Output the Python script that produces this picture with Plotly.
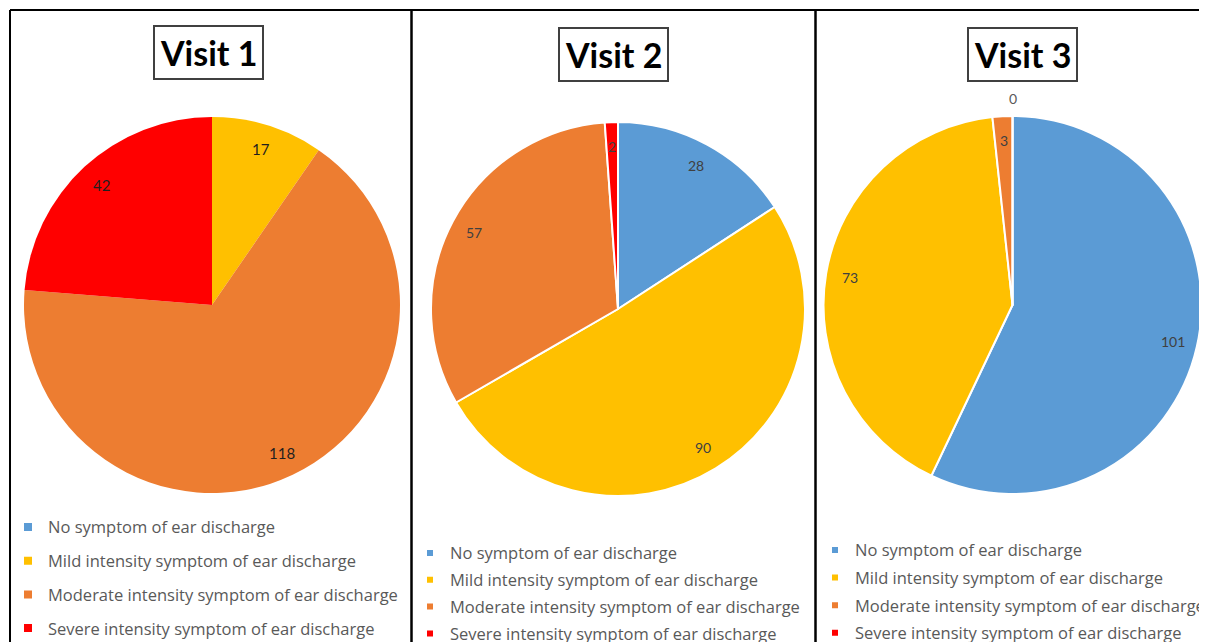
import math
import plotly.graph_objects as go

# ---- data ----
categories = [
    "No symptom of ear discharge",
    "Mild intensity symptom of ear discharge",
    "Moderate intensity symptom of ear discharge",
    "Severe intensity symptom of ear discharge",
]
visit_titles = ["Visit 1", "Visit 2", "Visit 3"]
visit1_values = [0, 17, 118, 42]
visit2_values = [28, 90, 57, 2]
visit3_values = [101, 73, 3, 0]

colors = ["#5B9BD5", "#FFC000", "#ED7D31", "#FF0000"]

# figure size; the page body has an 8px margin
W, H = 1207, 650
OFF = 8


def X(px):
    return (px - OFF) / W


def Y(py):
    return 1 - (py - OFF) / H


# panel geometry in page pixels
panels = [
    dict(cx=212, cy=305, r=188, line=0, lab_col="#1F1F1F", lab_size=15, legend="legend",
         title_xy=(208, 52), show_zero=False, msize=8),
    dict(cx=618, cy=309, r=187, line=2, lab_col="#404040", lab_size=14, legend="legend2",
         title_xy=(613, 55), show_zero=True, msize=6),
    dict(cx=1012.5, cy=305, r=189, line=2, lab_col="#404040", lab_size=14, legend="legend3",
         title_xy=(1022, 54), show_zero=True, msize=6),
]
all_values = [visit1_values, visit2_values, visit3_values]

fig = go.Figure()
annotations = []
for k, (p, vals, title) in enumerate(zip(panels, all_values, visit_titles)):
    cx, cy, r = p["cx"], p["cy"], p["r"]
    fig.add_trace(go.Pie(
        labels=categories,
        values=vals,
        sort=False,
        direction="clockwise",
        rotation=0,
        textinfo="none",
        marker=dict(colors=colors, line=dict(color="white", width=p["line"])),
        domain=dict(x=[X(cx - r), X(cx + r)], y=[Y(cy + r), Y(cy - r)]),
        showlegend=False,
        hoverinfo="label+value",
    ))
    # legend entries (one legend per panel)
    for c, col in zip(categories, colors):
        fig.add_trace(go.Scatter(
            x=[None], y=[None], mode="markers", name=c,
            marker=dict(symbol="square", size=p["msize"], color=col),
            legend=p["legend"], legendgroup="%d-%s" % (k, c), showlegend=True,
            hoverinfo="skip",
        ))
    total = sum(vals)
    cum = 0
    for v in vals:
        mid = (cum + v / 2) / total * 2 * math.pi
        cum += v
        if v == 0:
            if not p["show_zero"]:
                continue
            f, col = 1.09, "#595959"
        else:
            f, col = 0.87, p["lab_col"]
        px = cx + f * r * math.sin(mid)
        py = cy - f * r * math.cos(mid)
        annotations.append(dict(
            x=X(px), y=Y(py), xref="paper", yref="paper",
            xanchor="center", yanchor="middle",
            text=str(v), showarrow=False,
            font=dict(family="Lato", size=p["lab_size"], color=col),
        ))
    tx, ty = p["title_xy"]
    annotations.append(dict(
        x=X(tx), y=Y(ty), xref="paper", yref="paper",
        xanchor="center", yanchor="middle",
        text="<b>%s</b>" % title, showarrow=False,
        font=dict(family="Lato", size=34, color="black"),
        bordercolor="#404040", borderwidth=2, borderpad=5, bgcolor="white",
    ))

shapes = [
    dict(type="line", xref="paper", yref="paper", x0=X(10), x1=1, y0=Y(10), y1=Y(10),
         line=dict(color="black", width=2)),
    dict(type="line", xref="paper", yref="paper", x0=X(10), x1=X(10), y0=0, y1=Y(10),
         line=dict(color="black", width=2)),
    dict(type="line", xref="paper", yref="paper", x0=X(411.5), x1=X(411.5), y0=0, y1=Y(10),
         line=dict(color="black", width=2.5)),
    dict(type="line", xref="paper", yref="paper", x0=X(815.5), x1=X(815.5), y0=0, y1=Y(10),
         line=dict(color="black", width=2.5)),
]

LEG_FONT = 16.5
ITEM_H = LEG_FONT * 1.3 + 3


def legend_cfg(text_left, first_center, spacing):
    # text begins 40px right of the legend's left edge
    return dict(
        x=X(text_left - 40), y=Y(first_center - 5 - ITEM_H / 2), xanchor="left", yanchor="top",
        orientation="v", bgcolor="rgba(0,0,0,0)", borderwidth=0,
        font=dict(family="Open Sans", size=LEG_FONT, color="#595959"),
        traceorder="grouped", tracegroupgap=max(spacing - ITEM_H, 0), itemsizing="trace",
    )


fig.update_layout(
    width=W, height=H,
    margin=dict(l=0, r=0, t=0, b=0),
    paper_bgcolor="white", plot_bgcolor="white",
    xaxis=dict(visible=False), yaxis=dict(visible=False),
    annotations=annotations,
    shapes=shapes,
    legend=legend_cfg(48, 527, 33.7),
    legend2=legend_cfg(450, 553, 26.8),
    legend3=legend_cfg(855, 550, 27.6),
)

fig.write_html("out.html", config={"displayModeBar": False})
